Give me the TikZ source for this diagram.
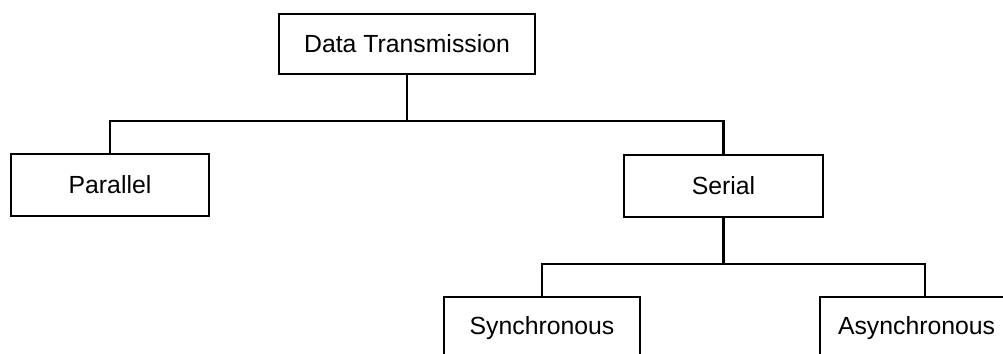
\documentclass[tikz,border=0pt]{standalone}
\usepackage{fontspec}
\setmainfont{Liberation Sans}
\usetikzlibrary{positioning}

\begin{document}
\begin{tikzpicture}[x=0.5pt, y=0.5pt,
      every node/.style={font=\fontsize{12.4}{14}\selectfont, align=center},
      box/.style={draw, line width=1.4pt, inner sep=0pt, minimum height=31pt},
      link/.style={line width=1.2pt}]
    \useasboundingbox (0,0) rectangle (1003,354);
    \node[box, minimum width=128pt, minimum height=30pt] (dt) at (407,310) {Data Transmission};
    \node[box, minimum width=99pt] (par) at (110,169) {Parallel};
    \node[box, minimum width=99.5pt] (ser) at (723.5,168) {Serial};
    \node[box, minimum width=98pt] (syn) at (542,26) {Synchronous};
    \node[box, minimum width=105pt, text width=87pt, align=left] (asyn) at (925,26) {Asynchronous};
    \coordinate (bus1) at (407,233);
    \coordinate (bus2) at (723.5,90);
    \draw[link] (dt.south) -- (bus1);
    \draw[link] (par.north) |- (bus1) -| (ser.north);
    \draw[link] (ser.south) -- (bus2);
    \draw[link] (syn.north) |- (bus2) -| (asyn.north);
  \end{tikzpicture}
\end{document}
